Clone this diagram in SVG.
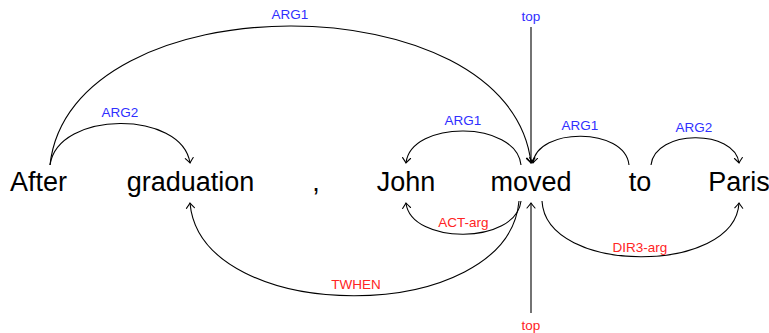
<svg xmlns="http://www.w3.org/2000/svg" width="769" height="333" viewBox="0 0 769 333">
  <style>
    .word { font-family: "Liberation Sans", "DejaVu Sans", sans-serif; font-size: 27px; fill: #000; text-anchor: middle; }
    .lbl { font-family: "Liberation Sans", "DejaVu Sans", sans-serif; font-size: 13.5px; text-anchor: middle; }
    .blue { fill: #2f2fff; }
    .red { fill: #ff2424; }
    .edge { fill: none; stroke: #000; stroke-width: 1.1; marker-end: url(#tip); }
  </style>
  <defs>
    <marker id="tip" markerUnits="userSpaceOnUse" markerWidth="12" markerHeight="12" refX="0" refY="0" viewBox="-7 -6 9 12" orient="auto" overflow="visible">
      <path d="M-5,-4 Q-1.5,-1 0,0 Q-1.5,1 -5,4" fill="none" stroke="#000" stroke-width="1.1" stroke-linecap="round"/>
    </marker>
  </defs>

  <!-- tokens -->
  <g id="w-after"><text class="word" x="38.5" y="191">After</text></g>
  <g id="w-graduation"><text class="word" x="190.5" y="191">graduation</text></g>
  <g id="w-comma"><text class="word" x="316" y="191">,</text></g>
  <g id="w-john"><text class="word" x="406" y="191">John</text></g>
  <g id="w-moved"><text class="word" x="531" y="191">moved</text></g>
  <g id="w-to"><text class="word" x="640" y="191">to</text></g>
  <g id="w-paris"><text class="word" x="739" y="191">Paris</text></g>

  <!-- dependency arcs -->
  <g id="edges">
    <!-- above the sentence -->
    <path class="edge" d="M50,165 C58,110 182,110 190,163"/>
    <path class="edge" d="M50,165 C70,-20 510,-20 531,163"/>
    <path class="edge" d="M531,27 L531,163"/>
    <path class="edge" d="M521,165 C516,120 411,120 406,163"/>
    <path class="edge" d="M629,165 C625,127 537,127 533,163"/>
    <path class="edge" d="M651,165 C655,129 735,129 739,163"/>
    <!-- below the sentence -->
    <path class="edge" d="M521,201 C516,245 411,245 406,203"/>
    <path class="edge" d="M519,201 C508,327 201,327 190,203"/>
    <path class="edge" d="M542,201 C546,275 735,275 739,203"/>
    <path class="edge" d="M531,313 L531,203"/>
  </g>

  <!-- arc labels -->
  <g id="labels">
    <text class="lbl blue" x="290" y="19">ARG1</text>
    <text class="lbl blue" x="120" y="117">ARG2</text>
    <text class="lbl blue" x="531" y="21">top</text>
    <text class="lbl blue" x="463" y="125">ARG1</text>
    <text class="lbl blue" x="580" y="130">ARG1</text>
    <text class="lbl blue" x="694" y="132">ARG2</text>
    <text class="lbl red" x="463.5" y="227">ACT-arg</text>
    <text class="lbl red" x="356" y="289">TWHEN</text>
    <text class="lbl red" x="640" y="252">DIR3-arg</text>
    <text class="lbl red" x="531" y="330">top</text>
  </g>
</svg>
